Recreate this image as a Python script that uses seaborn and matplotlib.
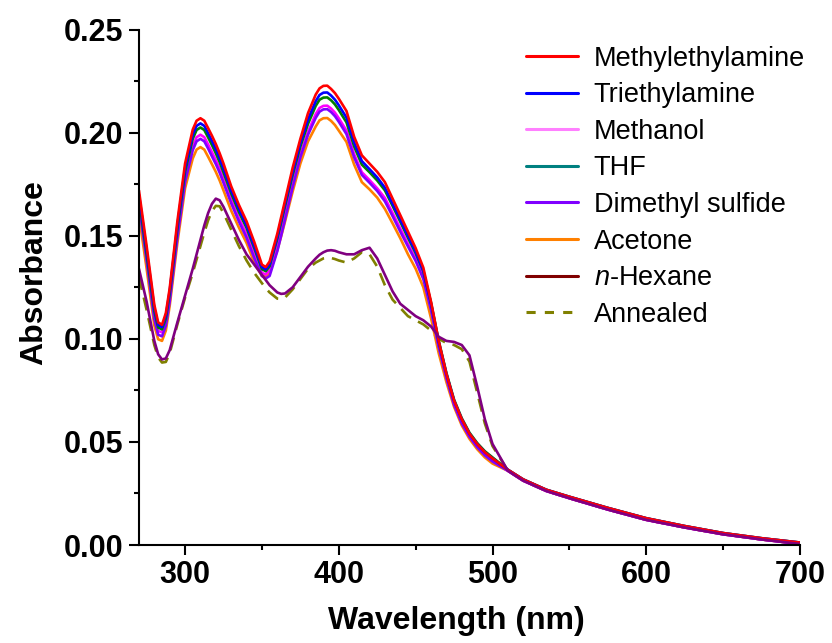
import matplotlib
matplotlib.use("Agg")
import matplotlib.pyplot as plt
from matplotlib.lines import Line2D
from matplotlib.ticker import MultipleLocator
import seaborn as sns

# ---------------------------------------------------------------------------
# Data
# ---------------------------------------------------------------------------
wl = [270, 275, 280, 282.5, 285, 287.5, 290, 295, 300, 305, 307.5, 310, 312.5,
      315, 317.5, 320, 322.5, 325, 330, 335, 340, 345, 350, 352.5, 355, 360,
      362.5, 365, 370, 375, 380, 385, 387.5, 390, 392.5, 395, 397.5, 400, 405,
      410, 415, 420, 425, 430, 435, 440, 445, 450, 455, 460, 465, 470, 475,
      480, 485, 490, 495, 500]
tail_wl = [510, 520, 535, 550, 575, 600, 625, 650, 675, 700]
tail_main = [.0365, .0318, .0268, .0234, .0180, .0130, .0092, .0058, .0033, .0012]
tail_low = [.0360, .0312, .0262, .0227, .0172, .0122, .0085, .0052, .0027, .0005]

methylethylamine = [.172, .145, .1165, .108, .1068, .1125, .1245, .157, .185,
                    .2015, .2058, .2070, .2058, .2022, .1985, .1945, .190, .185,
                    .174, .165, .157, .147, .136, .1348, .1375, .151, .159, .167,
                    .183, .197, .2095, .2185, .2215, .2227, .2228, .2212, .2192,
                    .2165, .2105, .198, .189, .185, .181, .176, .168, .160, .152,
                    .144, .1345, .118, .099, .083, .070, .061, .054, .049, .045,
                    .042]
triethylamine = [.170, .143, .1150, .1068, .1057, .1113, .1232, .155, .1828,
                 .1990, .2033, .2045, .2033, .1997, .196, .192, .1875, .1825,
                 .1720, .1630, .1550, .1450, .1348, .1337, .1362, .1495, .1575,
                 .1655, .181, .1948, .2065, .2153, .2183, .2194, .2195, .2180,
                 .2160, .2133, .2073, .1952, .1862, .1823, .1783, .1733, .1655,
                 .1578, .150, .1422, .133, .117, .0985, .083, .070, .061, .054,
                 .049, .045, .042]
thf = [.168, .141, .1135, .1055, .1046, .1100, .1220, .1535, .1810, .1970,
       .2013, .2025, .2013, .1977, .194, .190, .1857, .1807, .1705, .1615,
       .1538, .1440, .1338, .1328, .1352, .1485, .1563, .1642, .1795, .1932,
       .2043, .2130, .2160, .2170, .2171, .2157, .2137, .2110, .2050, .1933,
       .1845, .1808, .1768, .1720, .1645, .1568, .1490, .1415, .1328, .1175,
       .099, .0835, .0705, .0615, .0545, .0495, .0455, .0425]
methanol = [.166, .139, .111, .1038, .1032, .1083, .120, .151, .178, .1935,
            .1978, .1990, .1978, .1943, .1905, .1867, .1825, .1775, .1675,
            .1585, .1508, .1410, .1320, .1312, .1335, .1465, .1540, .1615,
            .1760, .1895, .2005, .2090, .2120, .2130, .2131, .2117, .2097,
            .2070, .2010, .1895, .1808, .1770, .1730, .1683, .1610, .1535,
            .1460, .1388, .1300, .1150, .0970, .0820, .0690, .0600, .0530,
            .0480, .0440, .0410]
dimethyl_sulfide = [.165, .138, .1095, .1020, .1012, .1063, .1180, .1490, .1760,
                    .1915, .1958, .1970, .1958, .1923, .1885, .1848, .1806, .1757,
                    .1658, .1570, .1490, .1392, .1305, .1293, .1305, .1425, .1500,
                    .1578, .1735, .1880, .1990, .2072, .2102, .2113, .2114, .2100,
                    .2080, .2053, .1993, .1880, .1795, .1757, .1717, .1667, .1595,
                    .1520, .1448, .1378, .1290, .1140, .0960, .0810, .0680, .0590,
                    .0525, .0475, .0435, .0405]
acetone = [.160, .134, .1065, .0998, .0990, .1040, .1160, .1465, .1730, .1875,
           .1918, .1930, .1918, .1883, .1847, .1810, .1768, .1720, .1622, .1540,
           .1465, .1370, .1305, .1302, .1318, .1430, .1497, .1568, .1715, .1850,
           .1958, .2030, .2060, .2070, .2071, .2057, .2037, .2010, .1955, .1845,
           .1760, .1725, .1685, .1630, .1560, .1488, .1410, .1340, .1250, .1100,
           .0930, .0790, .0670, .0580, .0515, .0465, .0425, .0395]
n_hexane = [.134, .118, .099, .0925, .0900, .0905, .0945, .108, .121, .134,
            .141, .148, .155, .161, .1655, .168, .1672, .164, .156, .148, .141,
            .136, .131, .1285, .126, .1225, .1218, .122, .125, .130, .135, .139,
            .1408, .142, .1428, .143, .1427, .142, .141, .141, .143, .1442, .139,
            .131, .123, .117, .114, .111, .109, .106, .101, .099, .0985, .097,
            .092, .077, .061, .049]
annealed = [.130, .114, .097, .091, .0885, .0888, .093, .107, .120, .132,
            .1385, .145, .1515, .1575, .162, .1645, .1643, .161, .153, .145,
            .138, .132, .127, .1245, .1225, .1195, .1193, .120, .124, .129, .134,
            .137, .138, .139, .1393, .1392, .1387, .138, .137, .139, .142, .141,
            .135, .126, .119, .115, .111, .109, .107, .104, .100, .098, .097,
            .095, .089, .074, .059, .048]

labels = ["Methylethylamine", "Triethylamine", "Methanol", "THF",
          "Dimethyl sulfide", "Acetone", r"$\mathit{n}$-Hexane", "Annealed"]
legend_colors = ["#FF0000", "#0000FF", "#FF80FF", "#008080",
                 "#8000FF", "#FF8000", "#800000", "#808000"]

# (values, tail, colour in the plot, linestyle) -- drawn in this order
curves = [
    (annealed, tail_low, "#808000", (0, (5, 3))),
    (acetone, tail_low, "#FF8000", "-"),
    (methanol, tail_low, "#FF00FF", "-"),
    (dimethyl_sulfide, tail_low, "#8000FF", "-"),
    (thf, tail_main, "#008000", "-"),
    (triethylamine, tail_main, "#0000FF", "-"),
    (methylethylamine, tail_main, "#FF0000", "-"),
    (n_hexane, tail_low, "#800080", "-"),
]

# ---------------------------------------------------------------------------
# Style
# ---------------------------------------------------------------------------
sns.set_theme(style="ticks")
plt.rcParams["font.family"] = ["Liberation Sans", "DejaVu Sans"]
plt.rcParams["mathtext.fontset"] = "custom"
plt.rcParams["mathtext.it"] = "Liberation Sans:italic"
plt.rcParams["mathtext.rm"] = "Liberation Sans"
for key in ["text.color", "axes.labelcolor", "xtick.color", "ytick.color",
            "axes.edgecolor"]:
    plt.rcParams[key] = "black"

fig = plt.figure(figsize=(8.32, 6.43), dpi=100)
ax = fig.add_axes([0.167, 0.1524, 0.7945, 0.8016])

for vals, tail, color, ls in curves:
    sns.lineplot(x=wl + tail_wl, y=vals + tail, color=color, linewidth=1.9,
                 linestyle=ls, ax=ax, legend=False)

ax.set_xlim(270, 700)
ax.set_ylim(0, 0.25)
ax.xaxis.set_major_locator(MultipleLocator(100))
ax.xaxis.set_minor_locator(MultipleLocator(50))
ax.yaxis.set_minor_locator(MultipleLocator(0.025))
ax.set_yticks([0, 0.05, 0.10, 0.15, 0.20, 0.25])
ax.set_yticklabels(["0.00", "0.05", "0.10", "0.15", "0.20", "0.25"])

for side in ["top", "right"]:
    ax.spines[side].set_visible(False)
for side in ["left", "bottom"]:
    ax.spines[side].set_linewidth(1.5)

ax.tick_params(which="major", direction="out", length=7, width=1.5,
               labelsize=22, pad=4)
ax.tick_params(which="minor", direction="out", length=3.5, width=1.5)
for lbl in ax.get_xticklabels() + ax.get_yticklabels():
    lbl.set_fontweight("bold")

ax.set_xlabel("Wavelength (nm)", fontsize=23, fontweight="bold")
ax.set_ylabel("Absorbance", fontsize=23, fontweight="bold")
ax.xaxis.set_label_coords(0.48, -0.118)
ax.yaxis.set_label_coords(-0.136, 0.529)

handles = [
    Line2D([], [], color=c, linewidth=2.2,
           linestyle=(0, (3, 3)) if lab == "Annealed" else "-")
    for lab, c in zip(labels, legend_colors)
]
fig.legend(handles, labels, loc="upper left", bbox_to_anchor=(0.616, 0.950),
           frameon=False, fontsize=19.5, handlelength=1.9, handletextpad=0.6,
           labelspacing=0.39, borderpad=0)

fig.savefig("out.png", dpi=100)
